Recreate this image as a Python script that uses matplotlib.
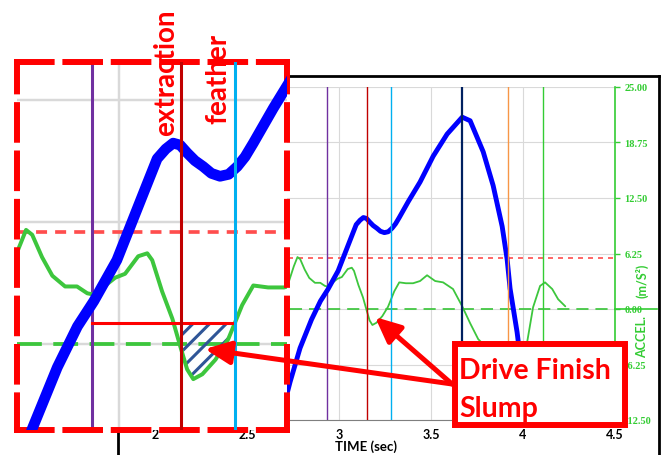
#!/usr/bin/env python3
"""Drive finish slump: stroke velocity / acceleration trace with zoomed inset."""
import matplotlib
matplotlib.use("Agg")
import matplotlib.pyplot as plt
import numpy as np
from matplotlib.lines import Line2D
from matplotlib.patches import FancyArrowPatch, Rectangle

W, H = 663, 456

# traces (time in sec, plotted in accel-axis units)
blue_t = [2.70, 2.735, 2.789, 2.851, 2.90, 2.94, 2.996, 3.028, 3.06, 3.094,
          3.115, 3.133, 3.15, 3.167, 3.186, 3.206, 3.226, 3.247, 3.268, 3.289,
          3.308, 3.328, 3.377, 3.441, 3.512, 3.588, 3.67, 3.713, 3.784, 3.838,
          3.887, 3.914, 3.93, 3.968, 4.0, 4.04]
blue_v = [-11.0, -8.2, -4.4, -1.2, 0.9, 2.2, 4.3, 6.0, 7.7, 9.5,
          10.0, 10.3, 10.2, 9.8, 9.4, 9.1, 8.75, 8.6, 8.7, 9.1,
          9.6, 10.3, 12.1, 14.3, 17.2, 19.7, 21.6, 21.2, 17.7, 13.9,
          9.3, 5.6, 2.3, -2.6, -7.9, -13.5]

green_t = [2.73, 2.755, 2.775, 2.79, 2.814, 2.839, 2.87, 2.899, 2.924, 2.948,
           2.968, 2.992, 3.016, 3.048, 3.07, 3.082, 3.106, 3.131, 3.15, 3.167,
           3.182, 3.204, 3.236, 3.267, 3.301, 3.328, 3.364, 3.403, 3.441, 3.479,
           3.523, 3.566, 3.62, 3.67, 3.713, 3.757, 3.82, 3.876, 3.958, 4.023,
           4.055, 4.093, 4.12, 4.159, 4.191, 4.23]
green_v = [3.2, 4.8, 5.85, 5.6, 4.45, 3.5, 2.95, 2.95, 2.6, 2.5,
           3.0, 3.4, 3.6, 4.5, 4.65, 4.3, 2.7, 1.3, -0.1, -1.3,
           -1.8, -1.55, -0.8, 0.25, 2.0, 3.0, 2.9, 2.9, 3.15, 3.8,
           3.15, 3.0, 2.25, 0.3, -1.6, -3.4, -4.7, -5.4, -5.1, -3.7,
           0.2, 2.6, 3.0, 2.25, 1.1, 0.3]

event_t = [2.936, 3.153, 3.284, 3.67, 3.92, 4.11]
event_c = ["#7030A0", "#C00000", "#00B0F0", "#002060", "#F79646", "#33CC33"]
event_w = [1.0, 1.0, 1.0, 1.6, 1.0, 1.0]

upper_level = 5.74   # red dashed reference
slump_level = 1.1    # red bar in the inset
x_ticks = [2, 2.5, 3, 3.5, 4, 4.5]
x_labels = ["2", "2.5", "3", "3.5", "4", "4.5"]
y_ticks = [-12.5, -6.25, 0, 6.25, 12.5, 18.75, 25]

BLUE = "#0000FF"
GREEN = "#3DC63D"
AXGREEN = "#33CC33"
RED = "#FF0000"
GRID = "#D9D9D9"


def fx(x):
    return x / W


def fy(y):
    return 1 - y / H


def draw_traces(ax, scale):
    for y in y_ticks:
        ax.axhline(y, color=GRID, lw=0.8 * scale, zorder=0.5)
    for x in x_ticks:
        ax.axvline(x, color=GRID, lw=0.8 * scale, zorder=0.5)
    ax.axhline(upper_level, color="#FF4D4D", lw=1.2 * scale,
               dashes=(3, 2.2) if scale > 1 else (3, 3), zorder=1)
    ax.axhline(0, color=GREEN, lw=1.25 * scale,
               dashes=(6.5, 3) if scale > 1 else (7, 4), zorder=1)
    ax.axvline(event_t[0], color=event_c[0], lw=event_w[0] * scale, zorder=1.5)
    ax.plot(green_t, green_v, color=GREEN, lw=1.3 * scale, zorder=2,
            solid_joinstyle="round", solid_capstyle="round")
    ax.plot(blue_t, blue_v, color=BLUE, lw=3.5 * scale, zorder=3,
            solid_joinstyle="round", solid_capstyle="round")
    for t, c, w in zip(event_t[1:], event_c[1:], event_w[1:]):
        ax.axvline(t, color=c, lw=w * scale, zorder=3.5)


plt.rcParams["hatch.linewidth"] = 2.2
fig = plt.figure(figsize=(W / 100, H / 100), dpi=100)

# main chart
ax = fig.add_axes([fx(118), fy(421), fx(615) - fx(118), fy(88) - fy(421)])
ax.set_zorder(1)
draw_traces(ax, 1.0)
ax.set_xlim(1.8, 4.5)
ax.set_ylim(-12.5, 25)
ax.set_xticks(x_ticks)
ax.set_xticklabels(x_labels, fontsize=9, fontweight="bold", family="Lato")
ax.tick_params(axis="x", length=0, pad=6)
ax.yaxis.tick_right()
ax.set_yticks(y_ticks)
ax.set_yticklabels([f"{v:.2f}" for v in y_ticks], fontsize=7.5,
                   fontweight="bold", family="Liberation Serif", color=AXGREEN)
ax.tick_params(axis="y", colors=AXGREEN, length=3.6, width=1, pad=3)
for name in ("left", "top"):
    ax.spines[name].set_visible(False)
ax.spines["right"].set_color(AXGREEN)
ax.spines["right"].set_linewidth(1.2)
ax.spines["bottom"].set_color("#7F7F7F")
fig.text(fx(366), fy(447), "TIME (sec)", ha="center", va="center",
         fontsize=9.5, fontweight="bold", family="Lato")
# the axis title is split around the 0.00 label, as in the screenshot
fig.text(fx(642), fy(337), "ACCEL.", rotation=90, ha="center", va="center",
         fontsize=9, fontweight="bold", family="Lato", color=AXGREEN)
fig.text(fx(642), fy(281), "(m/S²)", rotation=90, ha="center", va="center",
         fontsize=9, fontweight="bold", family="Lato", color=AXGREEN)
fig.add_artist(Line2D([fx(615), fx(657)], [fy(310)] * 2, color=AXGREEN,
                      lw=1.2, zorder=1.2))

# screenshot frame
for xs, ys in (([118, 659], [77, 77]), ([659, 659], [77, 460]),
               ([118, 118], [77, 460])):
    fig.add_artist(Line2D([fx(x) for x in xs], [fy(y) for y in ys],
                          color="black", lw=2.0, zorder=2))

# zoomed inset
axin = fig.add_axes([fx(17), fy(431), fx(287) - fx(17), fy(63) - fy(431)])
axin.set_zorder(3)
draw_traces(axin, 2.2)
axin.set_xlim(2.753, 3.410)
axin.set_ylim(-4.41, 14.46)
axin.set_xticks([])
axin.set_yticks([])
for spine in axin.spines.values():
    spine.set_color(RED)
    spine.set_linewidth(4.3)
    spine.set_linestyle((0, (5.8, 2.3)))

hatch_t = [event_t[1]] + [t for t in green_t if event_t[1] < t < event_t[2]] + [event_t[2]]
hatch_v = np.minimum(np.interp(hatch_t, green_t, green_v), slump_level)
axin.fill_between(hatch_t, hatch_v, slump_level, facecolor="none",
                  edgecolor="#2F5597", hatch="//", lw=0, zorder=1.8)
axin.plot([event_t[0], event_t[2]], [slump_level] * 2, color=RED, lw=2.2, zorder=2.5)

# annotations
fig.text(fx(166), fy(73), "extraction", rotation=90, ha="center", va="center",
         fontsize=20, fontweight="bold", family="Lato", color=RED, zorder=8)
fig.text(fx(218), fy(79), "feather", rotation=90, ha="center", va="center",
         fontsize=20, fontweight="bold", family="Lato", color=RED, zorder=8)

for tip in ((375, 318), (205, 350)):
    fig.add_artist(FancyArrowPatch(
        (fx(452), fy(385)), (fx(tip[0]), fy(tip[1])), transform=fig.transFigure,
        arrowstyle="-|>,head_length=0.7,head_width=0.32", mutation_scale=22,
        lw=3.6, color=RED, shrinkA=0, shrinkB=0, zorder=5))

fig.add_artist(Rectangle((fx(455), fy(426)), fx(625) - fx(455), fy(345) - fy(426),
                         transform=fig.transFigure, facecolor="white",
                         edgecolor=RED, lw=4.3, zorder=6))
fig.text(fx(459), fy(379), "Drive Finish", ha="left", va="baseline",
         fontsize=20.5, fontweight="bold", family="Lato", color=RED, zorder=7)
fig.text(fx(459), fy(417), "Slump", ha="left", va="baseline",
         fontsize=20.5, fontweight="bold", family="Lato", color=RED, zorder=7)

fig.savefig("out.png", dpi=100)
